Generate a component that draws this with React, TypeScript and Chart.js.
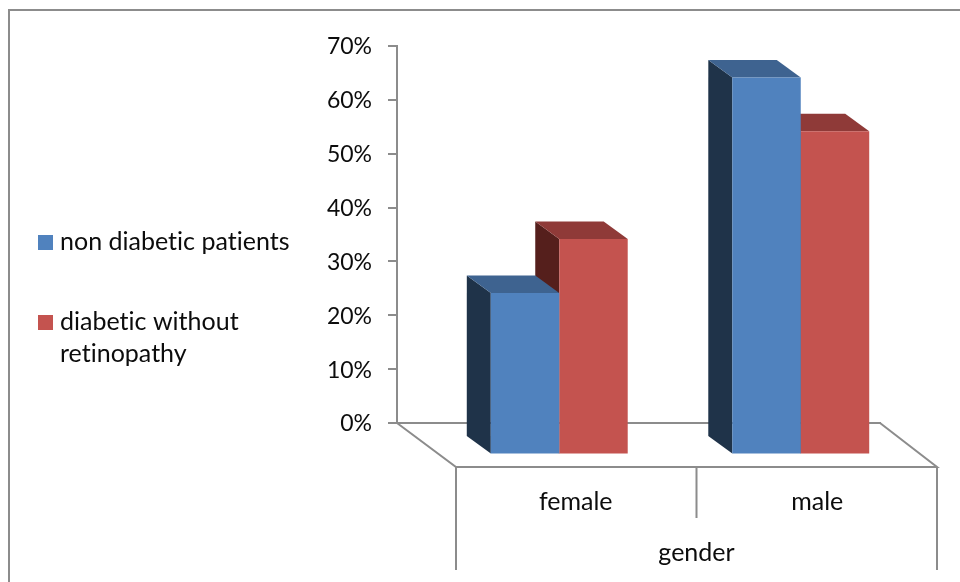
import React, { useEffect, useRef } from "react";
import { Chart, registerables } from "chart.js";

Chart.register(...registerables);

const categories = ["female", "male"];
const nonDiabetic = [30, 70];
const diabeticNoRetinopathy = [40, 60];
const seriesNames = ["non diabetic patients", "diabetic without retinopathy"];
const legendLines = [["non diabetic patients"], ["diabetic without", "retinopathy"]];
const yTicksMax = 70;
const axisTitle = "gender";

const FONT = "Lato, Carlito, Calibri, sans-serif";
const INK = "#0c0c0c";
const LINE = "#8c8c8c";
const TEXT_SIZE = 25;
const faces = [
  { front: "#5082BE", top: "#3E6390", side: "#1F3349" },
  { front: "#C4534F", top: "#8F3A38", side: "#551F1C" },
];

const depth3d = {
  id: "depth3d",
  beforeDraw(chart: any) {
    const { ctx } = chart;
    ctx.save();
    ctx.fillStyle = "#fff";
    ctx.fillRect(0, 0, chart.width, chart.height);
    ctx.strokeStyle = LINE;
    ctx.lineWidth = 2;
    ctx.beginPath();
    ctx.moveTo(9, 582);
    ctx.lineTo(9, 10);
    ctx.lineTo(960, 10);
    ctx.stroke();

    // legend
    ctx.font = `${TEXT_SIZE}px ${FONT}`;
    ctx.textBaseline = "middle";
    ctx.textAlign = "left";
    (ctx as any).letterSpacing = "0.01px";
    const boxTops = [235, 315];
    legendLines.forEach((lines, i) => {
      ctx.fillStyle = faces[i].front;
      ctx.fillRect(38, boxTops[i], 15, 15);
      ctx.fillStyle = INK;
      lines.forEach((t, j) => ctx.fillText(t, 60, boxTops[i] + 7 + j * 32));
    });
    ctx.restore();
  },
  beforeDatasetsDraw(chart: any) {
    const { ctx, chartArea: a } = chart;
    const fl = a.left + 59;
    const fr = a.right + 57;
    const fy = a.bottom + 44;
    const mid = (fl + fr) / 2;
    ctx.save();
    ctx.strokeStyle = LINE;
    ctx.lineWidth = 2;
    ctx.beginPath();
    ctx.moveTo(a.left, a.bottom);
    ctx.lineTo(fl, fy);
    ctx.lineTo(fr, fy);
    ctx.lineTo(a.right, a.bottom);
    ctx.moveTo(fl, fy);
    ctx.lineTo(fl, fy + 103);
    ctx.moveTo(fr, fy);
    ctx.lineTo(fr, fy + 103);
    ctx.moveTo(mid, fy);
    ctx.lineTo(mid, fy + 51);
    ctx.stroke();
    ctx.fillStyle = INK;
    ctx.font = `${TEXT_SIZE}px ${FONT}`;
    ctx.textAlign = "center";
    ctx.textBaseline = "middle";
    ctx.fillText(axisTitle, mid, fy + 86);
    ctx.restore();
  },
  beforeDatasetDraw(chart: any, args: any) {
    const { ctx } = chart;
    const f = faces[args.index];
    const dx = -24;
    const dy = -17.5;
    ctx.save();
    ctx.translate(41.5, 31.5);
    for (const bar of args.meta.data) {
      const l = bar.x - bar.width / 2;
      const r = bar.x + bar.width / 2;
      const t = bar.y;
      const b = bar.base;
      ctx.fillStyle = f.side;
      ctx.beginPath();
      ctx.moveTo(l, t);
      ctx.lineTo(l + dx, t + dy);
      ctx.lineTo(l + dx, b + dy);
      ctx.lineTo(l, b);
      ctx.closePath();
      ctx.fill();
      ctx.fillStyle = f.top;
      ctx.beginPath();
      ctx.moveTo(l, t);
      ctx.lineTo(l + dx, t + dy);
      ctx.lineTo(r + dx, t + dy);
      ctx.lineTo(r, t);
      ctx.closePath();
      ctx.fill();
    }
  },
  afterDatasetDraw(chart: any) {
    chart.ctx.restore();
  },
};

export default function App() {
  const ref = useRef<HTMLCanvasElement>(null);
  useEffect(() => {
    const chart = new Chart(ref.current as HTMLCanvasElement, {
      type: "bar",
      plugins: [depth3d],
      data: {
        labels: categories,
        datasets: [
          { label: seriesNames[0], data: nonDiabetic, backgroundColor: faces[0].front, clip: false },
          { label: seriesNames[1], data: diabeticNoRetinopathy, backgroundColor: faces[1].front, clip: false },
        ] as any,
      },
      options: {
        animation: false,
        responsive: false,
        devicePixelRatio: 1,
        layout: { autoPadding: false, padding: { left: 0, right: 80, top: 46, bottom: 32 } },
        datasets: { bar: { categoryPercentage: 0.567, barPercentage: 1 } },
        plugins: {
          title: { display: false },
          tooltip: { enabled: false },
          legend: { display: false },
        },
        scales: {
          x: {
            afterFit: (s: any) => {
              s.height = 127;
            },
            grid: { display: false },
            border: { display: true, color: LINE, width: 2 },
            ticks: {
              color: INK,
              font: { family: FONT, size: TEXT_SIZE },
              padding: 56,
              labelOffset: 58,
              maxRotation: 0,
            },
          },
          y: {
            min: 0,
            max: yTicksMax,
            afterFit: (s: any) => {
              s.width = 397;
            },
            grid: { drawOnChartArea: false, drawTicks: true, tickLength: 9, color: LINE, lineWidth: 2 },
            border: { display: true, color: LINE, width: 2 },
            ticks: {
              stepSize: 10,
              padding: 16,
              labelOffset: 1,
              color: INK,
              font: { family: FONT, size: 23 },
              callback: (v: any) => `${v}%`,
            },
          },
        },
      },
    });
    return () => chart.destroy();
  }, []);
  return (
    <div style={{ position: "absolute", left: 0, top: 0, width: 960, height: 582, background: "#fff" }}>
      <canvas ref={ref} width={960} height={582} style={{ display: "block" }} />
    </div>
  );
}
